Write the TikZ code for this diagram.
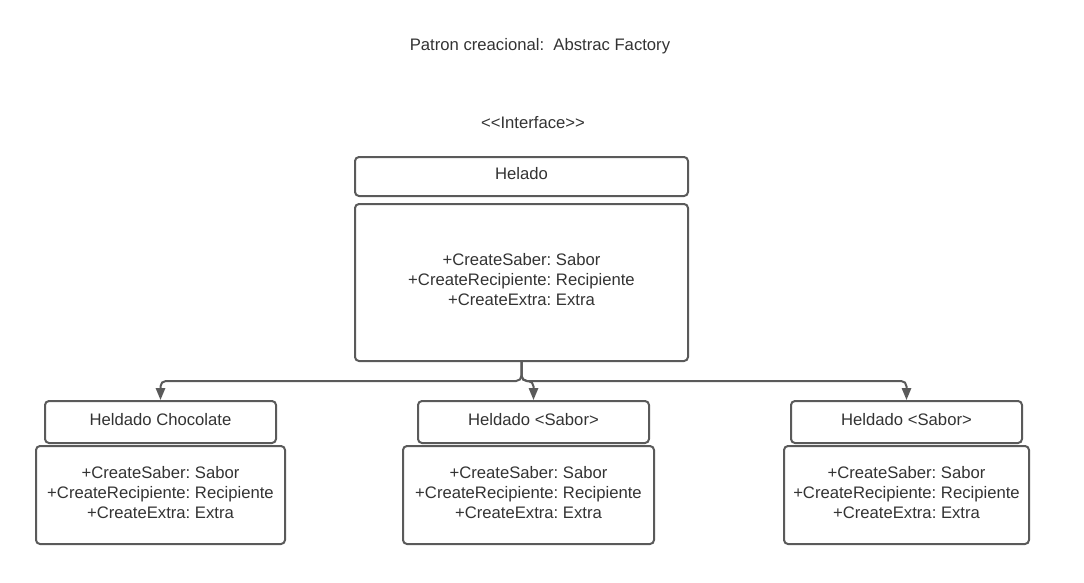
\documentclass[tikz,border=0pt]{standalone}
\usepackage{fontspec}
\setmainfont{Liberation Sans}
\usetikzlibrary{arrows.meta}
\definecolor{linegray}{HTML}{5A5A5A}
\definecolor{textgray}{HTML}{333333}
\frenchspacing

\begin{document}
\begin{tikzpicture}[x=0.75pt,y=-0.75pt,
		label/.style={text=textgray,font=\fontsize{12.5}{15}\selectfont,align=center,inner sep=0pt},
		classbox/.style={label,draw=linegray,line width=1.5pt,rounded corners=3pt,execute at end node={\rule[-4.5pt]{0pt}{0pt}}},
		link/.style={draw=linegray,line width=1.5pt,rounded corners=4pt,-{Triangle[length=9pt,width=7pt]}}]
				\useasboundingbox (0,0) rectangle (1084,582);

				\node[label] (title) at (540,46) {Patron creacional:\ \ Abstrac Factory};
				\node[label] (stereo) at (533,123) {<\kern0pt<Interface>\kern0pt>};

				\node[classbox,minimum width=249.75pt,minimum height=29.25pt] (hhead) at (521.5,176.5) {Helado};
				\node[classbox,minimum width=249.75pt,minimum height=117.75pt] (hbody) at (521.5,282.5)
					{+CreateSaber: Sabor\\+CreateRecipiente: Recipiente\\+CreateExtra: Extra};

				\node[classbox,minimum width=173.25pt,minimum height=31.5pt] (lhead) at (160.5,422) {Heldado Chocolate};
				\node[classbox,minimum width=186.75pt,minimum height=73.5pt] (lbody) at (160.5,495)
					{+CreateSaber: Sabor\\+CreateRecipiente: Recipiente\\+CreateExtra: Extra};

				\node[classbox,minimum width=173.25pt,minimum height=31.5pt] (mhead) at (533.5,422) {Heldado <Sabor>};
				\node[classbox,minimum width=188.25pt,minimum height=73.5pt] (mbody) at (528.5,495)
					{+CreateSaber: Sabor\\+CreateRecipiente: Recipiente\\+CreateExtra: Extra};

				\node[classbox,minimum width=173.25pt,minimum height=31.5pt] (rhead) at (906.5,422) {Heldado <Sabor>};
				\node[classbox,minimum width=183.75pt,minimum height=73.5pt] (rbody) at (906.5,495)
					{+CreateSaber: Sabor\\+CreateRecipiente: Recipiente\\+CreateExtra: Extra};

				\coordinate (split) at (521.5,381);
				\draw[link] (hbody.south) -- (split) -| (lhead.north);
				\draw[link] (hbody.south) -- (split) -| (mhead.north);
				\draw[link] (hbody.south) -- (split) -| (rhead.north);
			\end{tikzpicture}
\end{document}
